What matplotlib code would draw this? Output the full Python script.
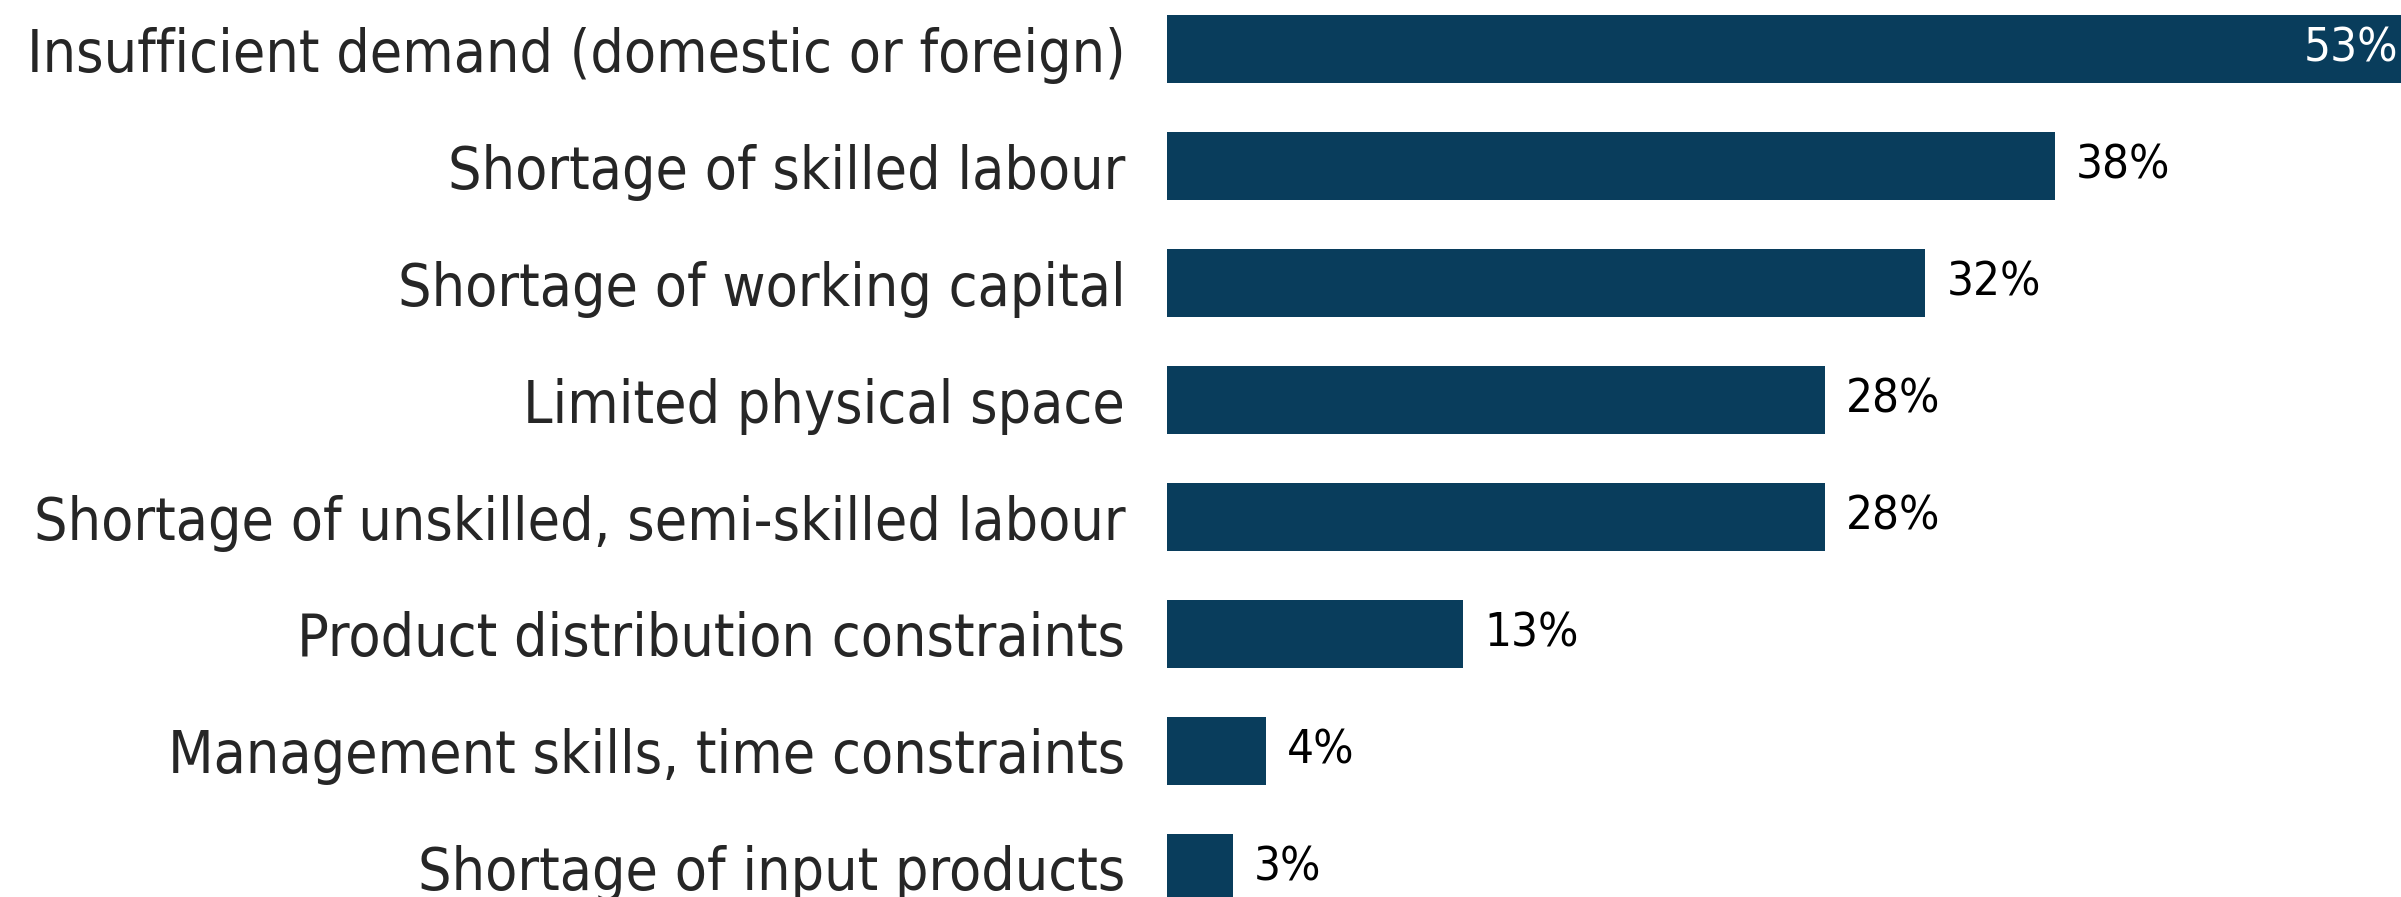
import matplotlib
matplotlib.use("Agg")
import matplotlib.pyplot as plt

categories = [
    "Insufficient demand (domestic or foreign)",
    "Shortage of skilled labour",
    "Shortage of working capital",
    "Limited physical space",
    "Shortage of unskilled, semi-skilled labour",
    "Product distribution constraints",
    "Management skills, time constraints",
    "Shortage of input products",
]
values = [53, 37.8, 32.3, 28.0, 28.0, 12.6, 4.2, 2.8]

bar_color = "#093d5c"
text_color = "#262626"

fig = plt.figure(figsize=(24.01, 8.97), dpi=100)
ax = fig.add_axes([1167 / 2401, 0, 1 - 1167 / 2401, 1])

ypos = list(range(len(categories)))
ax.barh(ypos, values, height=0.58, color=bar_color)
ax.set_xlim(0, 52.55)
ax.set_ylim(7.248, -0.419)

ax.set_yticks(ypos)
ax.set_yticklabels(categories, fontsize=42.3, color=text_color, fontstretch="condensed")
ax.tick_params(axis="y", length=0, pad=30)
ax.set_xticks([])
for s in ax.spines.values():
    s.set_visible(False)

for y, v in zip(ypos, values):
    if v == max(values):
        ax.text(52.45, y, f"{v:.0f}%", ha="right", va="center", fontsize=34,
                color="white", fontstretch="condensed")
    else:
        ax.text(v + 0.9, y, f"{v:.0f}%", ha="left", va="center", fontsize=34,
                color="black", fontstretch="condensed")

fig.savefig("out.png", dpi=100)
